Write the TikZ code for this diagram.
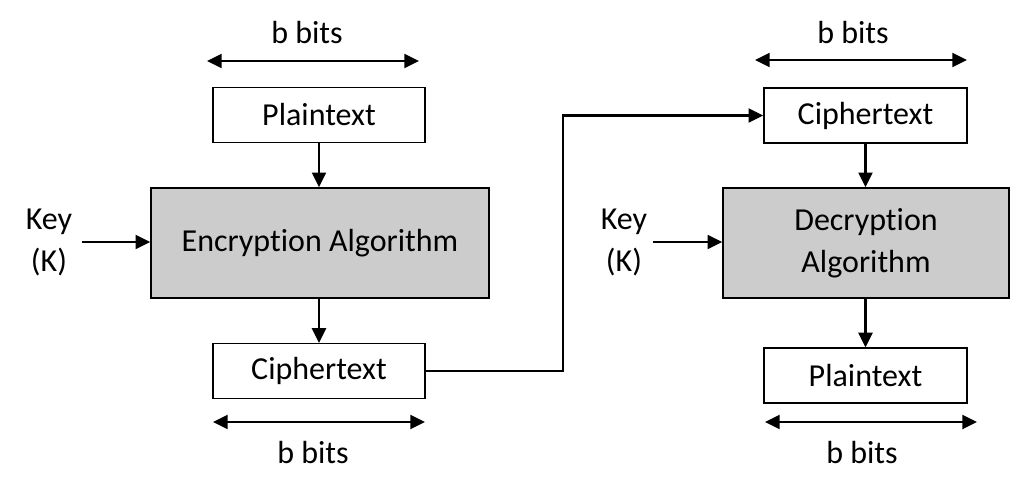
\documentclass[tikz,border=0pt]{standalone}
\usepackage{fontspec}
\setmainfont{Carlito}[RawFeature=-liga]
\usetikzlibrary{arrows.meta}
\definecolor{boxgray}{HTML}{CCCCCC}
\begin{document}
\begin{tikzpicture}[x=0.75pt,y=-0.75pt,
  every node/.style={font=\fontsize{24}{31.5}\selectfont, inner sep=0pt},
  wbox/.style={draw=black, line width=1.2pt, fill=white, minimum height=41pt},
  gbox/.style={draw=black, line width=1.2pt, fill=boxgray, minimum height=82.5pt, align=center},
  arr/.style={line width=1.7pt, -{Triangle[length=11pt,width=10.5pt]}},
  dbl/.style={line width=1.7pt, {Triangle[length=11pt,width=10.5pt]}-{Triangle[length=11pt,width=10.5pt]}},
  lbl/.style={align=center}]
\useasboundingbox (0,0) rectangle (1031,494);
% left side
\node[wbox, minimum width=159pt] (pt1) at (319,115) {Plaintext};
\node[gbox, minimum width=253.5pt] (enc) at (320,243) {Encryption Algorithm};
\node[wbox, minimum width=159pt] (ct1) at (319,371) {Ciphertext};
\node[lbl] (key1) at (49,242) {Key\\(K)};
\coordinate (k1) at (82,242);
\node (bt1) at (307,33) {b bits};
\coordinate (a1l) at (207,61); \coordinate (a1r) at (419,61);
\node (bb1) at (313,452) {b bits};
\coordinate (b1l) at (213,422); \coordinate (b1r) at (425,422);
% right side
\node[wbox, minimum width=152.25pt] (ct2) at (865.5,115.5) {Ciphertext};
\node[gbox, minimum width=214.5pt] (dec) at (866,243) {Decryption\\Algorithm};
\node[wbox, minimum width=152.25pt] (pt2) at (865.5,375.5) {Plaintext};
\node[lbl] (key2) at (624,242) {Key\\(K)};
\coordinate (k2) at (653,242);
\node (bt2) at (853,33) {b bits};
\coordinate (a2l) at (755,60); \coordinate (a2r) at (967,60);
\node (bb2) at (862,452) {b bits};
\coordinate (b2l) at (765,422); \coordinate (b2r) at (977,422);
\coordinate (mid) at (563,0);
% connectors
\draw[arr] (pt1.south) -- (pt1.south |- enc.north);
\draw[arr] (enc.south -| pt1.south) -- (ct1.north);
\draw[arr] (k1) -- (enc.west |- k1);
\draw[arr] (ct2.south) -- (ct2.south |- dec.north);
\draw[arr] (dec.south -| ct2.south) -- (pt2.north);
\draw[arr] (k2) -- (dec.west |- k2);
\draw[arr] (ct1.east) -| (mid |- ct2.west) -- (ct2.west);
\draw[dbl] (a1l) -- (a1r);
\draw[dbl] (b1l) -- (b1r);
\draw[dbl] (a2l) -- (a2r);
\draw[dbl] (b2l) -- (b2r);
\end{tikzpicture}
\end{document}
